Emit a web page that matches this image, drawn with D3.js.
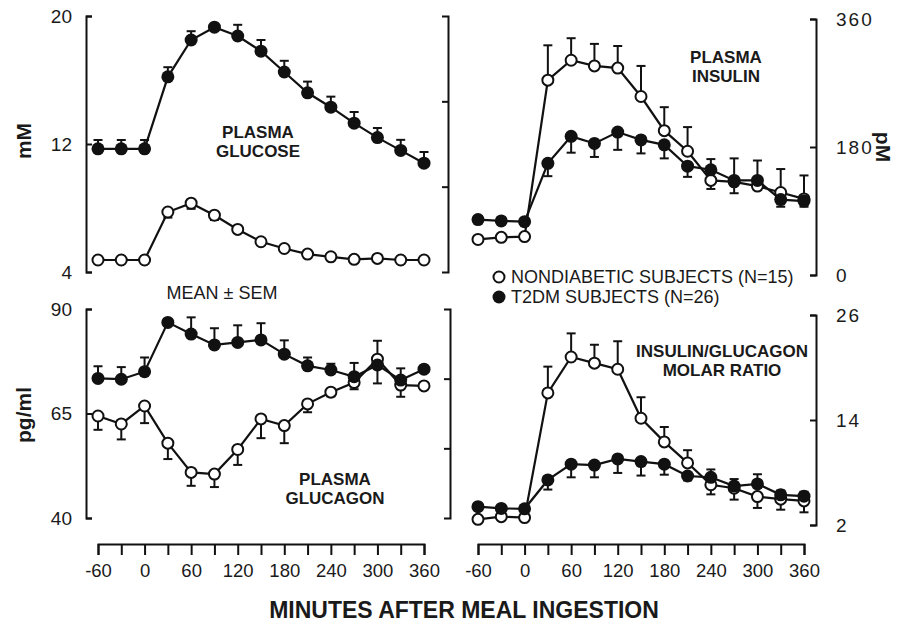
<!DOCTYPE html>
<html>
<head>
<meta charset="UTF-8">
<title>Meal response panels</title>
<script src="https://d3js.org/d3.v7.min.js"></script>
<style>
  body { margin: 0; background: #fff; }
  svg { display: block; font-family: "Liberation Sans", Arial, sans-serif; }
  .axis path, .axis line { stroke: #111; stroke-width: 2; fill: none; }
  .axis text { font-size: 19px; fill: #1a1a1a; font-family: "Liberation Sans", Arial, sans-serif; }
  .axis.right text { letter-spacing: 2px; }
  .xaxis text { font-size: 18.5px; }
  .series path { fill: none; stroke: #111; stroke-width: 2.2; }
  .err line { stroke: #111; stroke-width: 2; }
  .label { font-weight: bold; fill: #1a1a1a; font-size: 17px; text-anchor: middle; }
  .ytitle { font-weight: bold; fill: #1a1a1a; font-size: 21px; text-anchor: middle; }
  .legend { font-size: 18px; fill: #1a1a1a; }
</style>
</head>
<body>
<svg id="chart" width="903" height="627"></svg>
<script>
// sampling times (min)
var minutes = [-60, -30, 0, 30, 60, 90, 120, 150, 180, 210, 240, 270, 300, 330, 360];
var timeLabels = [-60, 0, 60, 120, 180, 240, 300, 360];

// plasma glucose (mM)
var glucoseND    = [4.75, 4.75, 4.75, 7.75, 8.3, 7.55, 6.66, 5.89, 5.47, 5.12, 4.95, 4.79, 4.85, 4.75, 4.75];
var glucoseNDsem = [0.1, 0.1, 0.1, 0.35, 0.35, 0.3, 0.2, 0.15, 0.1, 0.1, 0.1, 0.1, 0.15, 0.1, 0.1];
var glucoseT2    = [11.7, 11.7, 11.7, 16.2, 18.5, 19.3, 18.75, 17.8, 16.5, 15.2, 14.3, 13.3, 12.4, 11.6, 10.8];
var glucoseT2sem = [0.55, 0.55, 0.55, 0.6, 0.55, 0.2, 0.7, 0.7, 0.7, 0.7, 0.66, 0.7, 0.6, 0.66, 0.7];
var glucoseTicks = [4, 12, 20];

// plasma insulin (pM)
var insulinND    = [50, 53, 54, 274, 302, 294, 291, 251, 203, 174, 133, 131, 125, 116, 107];
var insulinNDsem = [4, 4, 4, 49, 31, 31, 31, 43, 33, 34, 12, 16, 5, 33, 33];
var insulinT2    = [78, 76, 75, 157, 195, 185, 201, 190, 183, 153, 148, 133, 133, 106, 104];
var insulinT2sem = [5, 5, 5, 18, 23, 19, 25, 19, 19, 15, 15, 31, 28, 10, 8];
var insulinTicks = [0, 180, 360];

// plasma glucagon (pg/ml)
var glucagonND    = [64.4, 62.5, 66.8, 57.9, 50.9, 50.5, 56.4, 63.7, 62.1, 67.3, 70.1, 72.4, 78.0, 71.8, 71.6];
var glucagonNDsem = [3.3, 3.7, 4.1, 3.8, 3.2, 3.1, 3.7, 4.6, 4.2, 2, 1, 1.6, 4.4, 2.8, 0.5];
var glucagonT2    = [73.4, 73.2, 75.0, 86.8, 84.0, 81.4, 82.0, 82.6, 79.2, 76.4, 75.4, 73.8, 76.6, 73.0, 75.6];
var glucagonT2sem = [2.9, 2.9, 3.4, 0.5, 4.0, 4.0, 4.1, 4.0, 3.3, 2, 1.5, 3.3, 4.4, 2.8, 0.5];
var glucagonTicks = [40, 65, 90];

// insulin/glucagon molar ratio
var ratioND    = [2.65, 2.95, 2.85, 17.1, 21.2, 20.5, 19.8, 14.2, 11.5, 9.1, 6.6, 6.2, 5.25, 4.95, 4.75];
var ratioNDsem = [0.2, 0.2, 0.2, 3.0, 2.7, 2.1, 3.2, 2.4, 1.7, 1.45, 1.1, 1.3, 1.3, 1.2, 1.3];
var ratioT2    = [4.1, 3.9, 3.85, 7.15, 8.95, 8.85, 9.55, 9.25, 8.95, 7.6, 7.45, 6.45, 6.7, 5.45, 5.3];
var ratioT2sem = [0.3, 0.3, 0.3, 1.1, 1.5, 1.4, 1.6, 1.6, 1.2, 0.5, 0.9, 0.8, 1.1, 0.5, 0.5];
var ratioTicks = [2, 14, 26];

var svg = d3.select("#chart");

var panels = [
  { nd: glucoseND, ndsem: glucoseNDsem, t2: glucoseT2, t2sem: glucoseT2sem, ticks: glucoseTicks,
    xr: [98, 424], yr: [272, 16], side: "left", axisX: 86, bracketX: 448, xaxis: false,
    title: ["PLASMA", "GLUCOSE"], tx: 258, ty: 138, ytitle: "mM", yx: 24, yy: 141 },
  { nd: insulinND, ndsem: insulinNDsem, t2: insulinT2, t2sem: insulinT2sem, ticks: insulinTicks,
    xr: [478, 804], yr: [275, 19], side: "right", axisX: 816, xaxis: false,
    title: ["PLASMA", "INSULIN"], tx: 726, ty: 63, ytitle: "pM", yx: 883, yy: 147 },
  { nd: glucagonND, ndsem: glucagonNDsem, t2: glucagonT2, t2sem: glucagonT2sem, ticks: glucagonTicks,
    xr: [98, 424], yr: [518, 309], side: "left", axisX: 86, bracketX: 450, xaxis: true,
    title: ["PLASMA", "GLUCAGON"], tx: 335, ty: 485, ytitle: "pg/ml", yx: 24, yy: 415 },
  { nd: ratioND, ndsem: ratioNDsem, t2: ratioT2, t2sem: ratioT2sem, ticks: ratioTicks,
    xr: [478, 804], yr: [525, 315], side: "right", axisX: 816, xaxis: true,
    title: ["INSULIN/GLUCAGON", "MOLAR RATIO"], tx: 722, ty: 357 }
];

panels.forEach(function(p) {
  var x = d3.scaleLinear().domain([-60, 360]).range(p.xr);
  var y = d3.scaleLinear().domain([p.ticks[0], p.ticks[2]]).range(p.yr);

  // value axis
  if (p.side === "left") {
    svg.append("g").attr("class", "axis")
      .attr("transform", "translate(" + p.axisX + ",0)")
      .call(d3.axisLeft(y).tickValues(p.ticks).tickSize(-6).tickPadding(14));
    // bracket on the right side of the left panels
    var dom = y.domain(), step = (dom[1] - dom[0]) / 3;
    svg.append("g").attr("class", "axis")
      .attr("transform", "translate(" + p.bracketX + ",0)")
      .call(d3.axisRight(y).tickValues([dom[0] + step, dom[0] + 2 * step]).tickSize(-6).tickFormat(""));
  } else {
    svg.append("g").attr("class", "axis right")
      .attr("transform", "translate(" + p.axisX + ",0)")
      .call(d3.axisRight(y).tickValues(p.ticks).tickSize(-6).tickPadding(20));
  }

  if (p.xaxis) {
    svg.append("g").attr("class", "axis xaxis")
      .attr("transform", "translate(0,544)")
      .call(d3.axisBottom(x).tickValues(minutes).tickSize(11).tickPadding(9)
        .tickFormat(function(d) { return timeLabels.indexOf(d) >= 0 ? d : ""; }));
  }

  var series = [
    { v: p.nd, s: p.ndsem, other: p.t2, filled: false },
    { v: p.t2, s: p.t2sem, other: p.nd, filled: true }
  ];

  series.forEach(function(sr) {
    var pts = minutes.map(function(m, i) {
      return { m: m, v: sr.v[i], s: sr.s[i], dir: sr.v[i] >= sr.other[i] ? 1 : -1 };
    });
    var g = svg.append("g").attr("class", "series");

    g.append("path").datum(pts)
      .attr("d", d3.line().x(function(d) { return x(d.m); }).y(function(d) { return y(d.v); }));

    // error bars point away from the other group
    var eb = g.selectAll("g.err").data(pts).enter().append("g").attr("class", "err");
    eb.append("line")
      .attr("x1", function(d) { return x(d.m); }).attr("x2", function(d) { return x(d.m); })
      .attr("y1", function(d) { return y(d.v); })
      .attr("y2", function(d) { return y(d.v + d.dir * d.s); });
    eb.append("line")
      .attr("x1", function(d) { return x(d.m) - 4.5; }).attr("x2", function(d) { return x(d.m) + 4.5; })
      .attr("y1", function(d) { return y(d.v + d.dir * d.s); })
      .attr("y2", function(d) { return y(d.v + d.dir * d.s); });

    g.selectAll("circle").data(pts).enter().append("circle")
      .attr("cx", function(d) { return x(d.m); })
      .attr("cy", function(d) { return y(d.v); })
      .attr("r", sr.filled ? 6.5 : 5.5)
      .attr("fill", sr.filled ? "#111" : "#fff")
      .attr("stroke", "#111")
      .attr("stroke-width", sr.filled ? 0 : 2);
  });

  // panel title
  var t = svg.append("text").attr("class", "label").attr("x", p.tx).attr("y", p.ty);
  p.title.forEach(function(line, i) {
    t.append("tspan").attr("x", p.tx).attr("dy", i === 0 ? 0 : 19).text(line);
  });

  if (p.ytitle) {
    var rot = p.side === "left" ? -90 : 90;
    svg.append("text").attr("class", "ytitle")
      .attr("transform", "translate(" + p.yx + "," + p.yy + ") rotate(" + rot + ")")
      .attr("dy", "0.35em")
      .text(p.ytitle);
  }
});

// legend
var legend = [
  { name: "NONDIABETIC SUBJECTS (N=15)", filled: false, y: 277 },
  { name: "T2DM SUBJECTS (N=26)", filled: true, y: 297 }
];
legend.forEach(function(l) {
  svg.append("circle").attr("cx", 499).attr("cy", l.y)
    .attr("r", l.filled ? 6.5 : 5.5)
    .attr("fill", l.filled ? "#111" : "#fff")
    .attr("stroke", "#111").attr("stroke-width", l.filled ? 0 : 2);
  svg.append("text").attr("class", "legend").attr("x", 511).attr("y", l.y).attr("dy", "0.36em").text(l.name);
});

svg.append("text").attr("class", "legend").attr("x", 222).attr("y", 293).attr("dy", "0.36em")
  .attr("text-anchor", "middle").text("MEAN \u00B1 SEM");

svg.append("text").attr("x", 464).attr("y", 618)
  .attr("text-anchor", "middle")
  .style("font-weight", "bold").style("font-size", "23px").style("fill", "#1a1a1a")
  .text("MINUTES AFTER MEAL INGESTION");
</script>
</body>
</html>
